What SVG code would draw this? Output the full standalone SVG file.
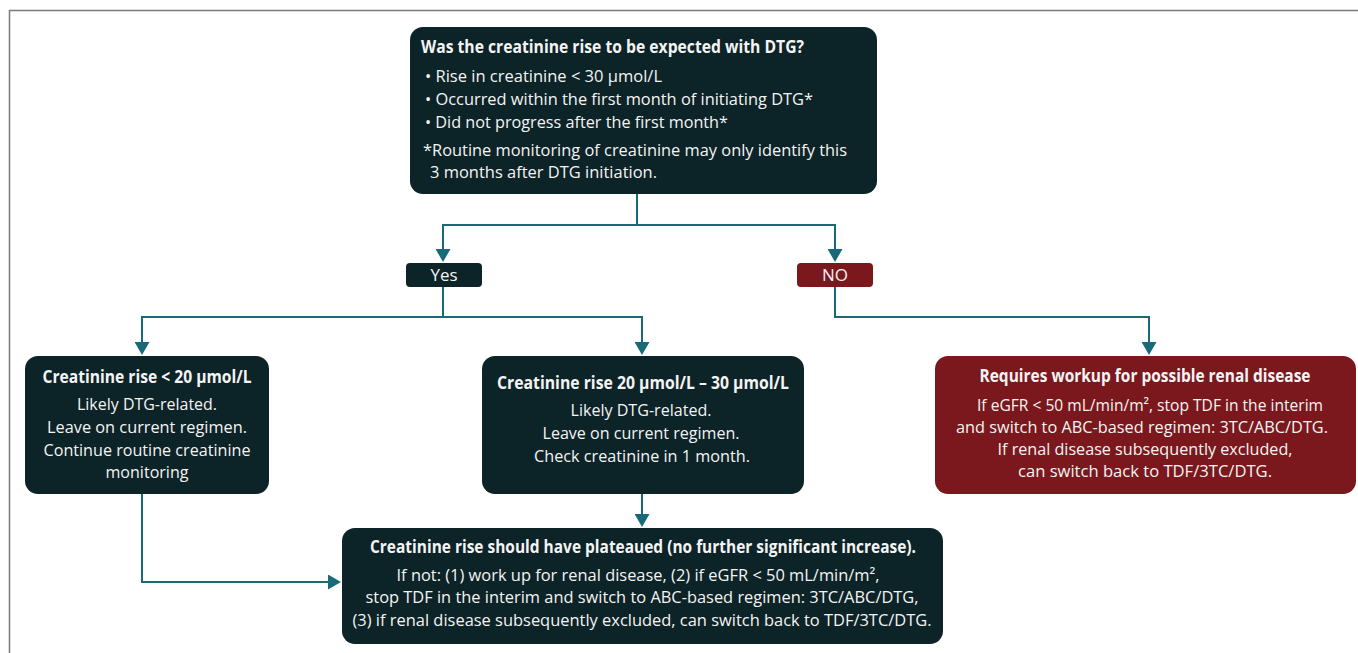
<svg xmlns="http://www.w3.org/2000/svg" width="1358" height="653" viewBox="0 0 1358 653">
<style>
.dark{fill:#0c2327;}
.red{fill:#7b181d;}
text{font-family:"Open Sans","Noto Sans",sans-serif;font-size:17px;fill:#f4f4f4;}
.b{font-weight:bold;}
.c{text-anchor:middle;}
.conn{fill:none;stroke:#186a77;stroke-width:2;}
</style>
<defs>
<marker id="ah" markerUnits="userSpaceOnUse" viewBox="0 0 13 15" markerWidth="13" markerHeight="15" refX="9" refY="7.5" orient="auto">
<path d="M0,0 L13,7.5 L0,15 Z" fill="#186a77"/>
</marker>
</defs>
<rect width="1358" height="653" fill="#ffffff"/>
<path d="M9.5,653 V10.5 H1358" fill="none" stroke="#7a7a7a" stroke-width="1.5"/>

<g id="connectors">
<path class="conn" d="M637,194 V225 H443 V258" marker-end="url(#ah)"/>
<path class="conn" d="M637,225 H835 V258" marker-end="url(#ah)"/>
<path class="conn" d="M443,287 V317 H142 V351" marker-end="url(#ah)"/>
<path class="conn" d="M443,317 H642 V351" marker-end="url(#ah)"/>
<path class="conn" d="M835,287 V317 H1149 V351" marker-end="url(#ah)"/>
<path class="conn" d="M642,494 V523" marker-end="url(#ah)"/>
<path class="conn" d="M142,494 V582 H337" marker-end="url(#ah)"/>
</g>

<g id="question">
<rect class="dark" x="410" y="27" width="467" height="167" rx="13"/>
<text class="b" x="421" y="53" textLength="383" lengthAdjust="spacingAndGlyphs">Was the creatinine rise to be expected with DTG?</text>
<text x="425" y="82" textLength="237" lengthAdjust="spacingAndGlyphs">• Rise in creatinine &lt; 30 µmol/L</text>
<text x="425" y="105" textLength="388" lengthAdjust="spacingAndGlyphs">• Occurred within the first month of initiating DTG*</text>
<text x="425" y="128" textLength="303" lengthAdjust="spacingAndGlyphs">• Did not progress after the first month*</text>
<text x="423" y="156" textLength="424" lengthAdjust="spacingAndGlyphs">*Routine monitoring of creatinine may only identify this</text>
<text x="430" y="178" textLength="227" lengthAdjust="spacingAndGlyphs">3 months after DTG initiation.</text>
</g>

<g id="yes">
<rect class="dark" x="406" y="263" width="76" height="24" rx="4"/>
<text class="c" x="444" y="281">Yes</text>
</g>

<g id="no">
<rect class="red" x="797" y="263" width="76" height="24" rx="4"/>
<text class="c" x="835" y="281">NO</text>
</g>

<g id="rise-lt-20">
<rect class="dark" x="25" y="356" width="244" height="138" rx="13"/>
<text class="b c" x="147" y="383" textLength="209" lengthAdjust="spacingAndGlyphs">Creatinine rise &lt; 20 µmol/L</text>
<text class="c" x="147" y="410" textLength="140" lengthAdjust="spacingAndGlyphs">Likely DTG-related.</text>
<text class="c" x="147" y="433" textLength="200" lengthAdjust="spacingAndGlyphs">Leave on current regimen.</text>
<text class="c" x="147" y="456" textLength="207" lengthAdjust="spacingAndGlyphs">Continue routine creatinine</text>
<text class="c" x="147" y="478" textLength="83" lengthAdjust="spacingAndGlyphs">monitoring</text>
</g>

<g id="rise-20-30">
<rect class="dark" x="482" y="356" width="322" height="138" rx="13"/>
<text class="b c" x="643" y="389" textLength="292" lengthAdjust="spacingAndGlyphs">Creatinine rise 20 µmol/L – 30 µmol/L</text>
<text class="c" x="641" y="416" textLength="141" lengthAdjust="spacingAndGlyphs">Likely DTG-related.</text>
<text class="c" x="641" y="439" textLength="197" lengthAdjust="spacingAndGlyphs">Leave on current regimen.</text>
<text class="c" x="642" y="462" textLength="216" lengthAdjust="spacingAndGlyphs">Check creatinine in 1 month.</text>
</g>

<g id="renal-workup">
<rect class="red" x="935" y="356" width="421" height="138" rx="13"/>
<text class="b c" x="1145" y="382" textLength="331" lengthAdjust="spacingAndGlyphs">Requires workup for possible renal disease</text>
<text class="c" x="1150" y="411" textLength="346" lengthAdjust="spacingAndGlyphs">If eGFR &lt; 50 mL/min/m², stop TDF in the interim</text>
<text class="c" x="1142" y="433" textLength="372" lengthAdjust="spacingAndGlyphs">and switch to ABC-based regimen: 3TC/ABC/DTG.</text>
<text class="c" x="1145" y="455" textLength="295" lengthAdjust="spacingAndGlyphs">If renal disease subsequently excluded,</text>
<text class="c" x="1145" y="477" textLength="254" lengthAdjust="spacingAndGlyphs">can switch back to TDF/3TC/DTG.</text>
</g>

<g id="plateau">
<rect class="dark" x="342" y="528" width="601" height="116" rx="13"/>
<text class="b c" x="643" y="553" textLength="546" lengthAdjust="spacingAndGlyphs">Creatinine rise should have plateaued (no further significant increase).</text>
<text class="c" x="638" y="581" textLength="483" lengthAdjust="spacingAndGlyphs">If not: (1) work up for renal disease, (2) if eGFR &lt; 50 mL/min/m²,</text>
<text class="c" x="642" y="603" textLength="553" lengthAdjust="spacingAndGlyphs">stop TDF in the interim and switch to ABC-based regimen: 3TC/ABC/DTG,</text>
<text class="c" x="642" y="626" textLength="579" lengthAdjust="spacingAndGlyphs">(3) if renal disease subsequently excluded, can switch back to TDF/3TC/DTG.</text>
</g>
</svg>
